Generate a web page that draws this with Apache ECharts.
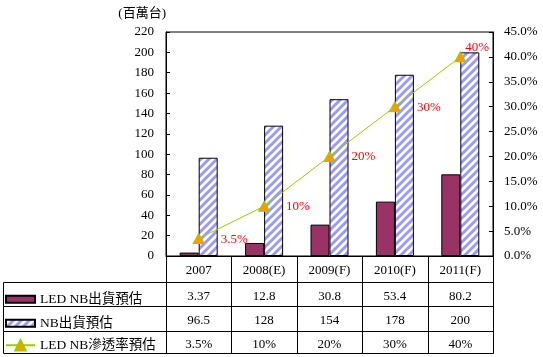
<!DOCTYPE html>
<html><head><meta charset="utf-8">
<script src="https://cdn.jsdelivr.net/npm/echarts@6/dist/echarts.min.js"></script>
<style>html,body{margin:0;padding:0;background:#fff}#c{width:543px;height:357px}</style>
</head><body><div id="c"></div>
<script>
const categories = ['2007', '2008(E)', '2009(F)', '2010(F)', '2011(F)'];
const ledNB = [3.37, 12.8, 30.8, 53.4, 80.2];
const nbShip = [96.5, 128, 154, 178, 200];
const ledRate = [3.5, 10, 20, 30, 40];
const seriesNames = ['LED NB出貨預估', 'NB出貨預估', 'LED NB滲透率預估'];
const unitLabel = '(百萬台)';
const leftAxisRange = [0, 220, 20];
const rightAxisRange = [0, 45, 5];

const FONT = '"Liberation Serif","Noto Sans CJK TC",serif';

// diagonal hatch pattern
const pc = document.createElement('canvas');
pc.width = 8; pc.height = 8;
const g = pc.getContext('2d');
g.fillStyle = '#ffffff'; g.fillRect(0, 0, 8, 8);
g.strokeStyle = '#9999ff'; g.lineWidth = 3;
[-8, 0, 8, 16].forEach(c => { g.beginPath(); g.moveTo(c + 4, -4); g.lineTo(c - 12, 12); g.stroke(); });
const hatch = { image: pc, repeat: 'repeat' };

const chart = echarts.init(document.getElementById('c'), null, { renderer: 'canvas' });

const legendBase = {
  orient: 'vertical', left: 5, itemWidth: 29, selectedMode: false, padding: 0,
  textStyle: { fontSize: 13.5, fontFamily: FONT, color: '#000' }
};

chart.setOption({
  animation: false,
  backgroundColor: '#fff',
  grid: { left: 166, right: 50, top: 32, bottom: 101, show: true, borderColor: '#000', borderWidth: 1, backgroundColor: 'transparent' },
  legend: [
    Object.assign({}, legendBase, { data: [{ name: seriesNames[0], icon: 'rect' }], top: 292.5, itemHeight: 7 }),
    Object.assign({}, legendBase, { data: [{ name: seriesNames[1], icon: 'rect' }], top: 316.5, itemHeight: 7 }),
    Object.assign({}, legendBase, { data: [{ name: seriesNames[2] }], top: 338.5, itemHeight: 13 })
  ],
  xAxis: {
    type: 'category', data: categories,
    axisLine: { lineStyle: { color: '#000', width: 1 } },
    axisTick: { show: false },
    axisLabel: { color: '#000', fontSize: 13, fontFamily: FONT, margin: 8, interval: 0 },
    splitLine: { show: false }
  },
  yAxis: [
    {
      type: 'value', min: leftAxisRange[0], max: leftAxisRange[1], interval: leftAxisRange[2],
      name: unitLabel, nameLocation: 'end', nameGap: 12,
      nameTextStyle: { color: '#000', fontSize: 13, fontFamily: FONT, align: 'right' },
      axisLine: { show: true, lineStyle: { color: '#000' } },
      axisTick: { show: true, inside: true, length: 4, lineStyle: { color: '#000' } },
      axisLabel: { color: '#000', fontSize: 13, fontFamily: FONT, margin: 12 },
      splitLine: { show: false }
    },
    {
      type: 'value', position: 'right', min: rightAxisRange[0], max: rightAxisRange[1], interval: rightAxisRange[2],
      axisLine: { show: true, lineStyle: { color: '#000' } },
      axisTick: { show: true, inside: true, length: 4, lineStyle: { color: '#000' } },
      axisLabel: { color: '#000', fontSize: 13, fontFamily: FONT, margin: 11, formatter: v => v.toFixed(1) + '%' },
      splitLine: { show: false }
    }
  ],
  series: [
    {
      name: seriesNames[0], type: 'bar', data: ledNB, barWidth: 19, barGap: '0%',
      itemStyle: { color: '#993366', borderColor: '#000', borderWidth: 1 }
    },
    {
      name: seriesNames[1], type: 'bar', data: nbShip, barWidth: 19,
      itemStyle: { color: hatch, borderColor: '#000', borderWidth: 1 }
    },
    {
      name: seriesNames[2], type: 'line', yAxisIndex: 1, z: 5,
      data: ledRate.map((v, i) => i === ledRate.length - 1
        ? { value: v, label: { position: [11, -4] } }
        : { value: v }),
      lineStyle: { color: '#99cc00', width: 1 },
      symbol: 'triangle', symbolSize: [11, 10],
      itemStyle: { color: '#ff9900', borderColor: '#99cc00', borderWidth: 1 },
      label: {
        show: true, position: [28, 6], align: 'left', verticalAlign: 'middle',
        color: '#ff0000', fontSize: 13, fontFamily: FONT,
        formatter: p => p.value + '%'
      }
    }
  ]
});

// data table below the plot, aligned with the category axis
const xs = categories.map((c, i) => chart.convertToPixel({ xAxisIndex: 0 }, i));
const bw = xs[1] - xs[0];
const y0 = Math.round(chart.convertToPixel({ yAxisIndex: 0 }, 0));
const xL = xs[0] - bw / 2, xR = xs[xs.length - 1] + bw / 2;
const rowY = [y0, y0 + 25.5, y0 + 49.5, y0 + 74.5, y0 + 97].map(v => Math.round(v) + 0.5);
const tableLeft = 3.5;
const crisp = v => Math.round(v) + 0.5;
const elems = [];
const ln = (x1, y1, x2, y2) => elems.push({ type: 'line', shape: { x1, y1, x2, y2 }, style: { stroke: '#000', lineWidth: 1 }, z: 10 });
for (let r = 1; r < rowY.length; r++) ln(tableLeft, rowY[r], crisp(xR), rowY[r]);
ln(tableLeft, rowY[1], tableLeft, rowY[4]);
for (let k = 0; k <= categories.length; k++) { const x = crisp(xL + k * bw); ln(x, y0, x, rowY[4]); }
const rows = [ledNB.map(v => String(v)), nbShip.map(v => String(v)), ledRate.map(v => v + '%')];
rows.forEach((vals, r) => {
  const cy = (rowY[r + 1] + rowY[r + 2]) / 2 + 2;
  vals.forEach((t, i) => elems.push({
    type: 'text', x: xs[i], y: cy, z: 10,
    style: { text: t, align: 'center', verticalAlign: 'middle', fill: '#000', fontSize: 13, fontFamily: FONT }
  }));
});
chart.setOption({ graphic: { elements: elems } });
</script>
</body></html>
